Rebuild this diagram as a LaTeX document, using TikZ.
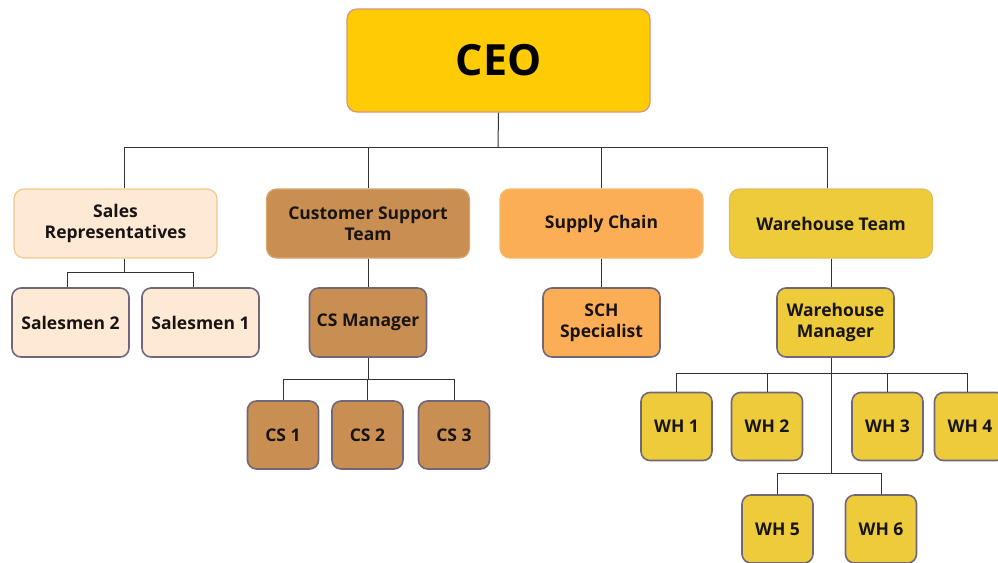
\documentclass[tikz,border=0pt]{standalone}
\usepackage{fontspec}
\setmainfont{Open Sans}
\usetikzlibrary{positioning}
\definecolor{ceoGold}{RGB}{255,203,5}
\definecolor{ceoEdge}{RGB}{212,150,130}
\definecolor{salesPeach}{RGB}{253,233,212}
\definecolor{salesEdge}{RGB}{241,200,145}
\definecolor{csBrown}{RGB}{201,143,82}
\definecolor{csEdge}{RGB}{215,165,110}
\definecolor{supplyOrange}{RGB}{252,174,86}
\definecolor{supplyEdge}{RGB}{245,185,105}
\definecolor{whYellow}{RGB}{237,203,58}
\definecolor{whEdge}{RGB}{222,190,90}
\definecolor{subEdge}{RGB}{112,104,122}
\definecolor{lineGrey}{RGB}{50,50,50}
\definecolor{inkDark}{RGB}{25,20,20}

\begin{document}
\begin{tikzpicture}[x=1pt,y=-1pt, every node/.style={font=\bfseries\fontsize{17.5}{21}\selectfont,text=inkDark,align=center,inner sep=1pt},
  teambox/.style={draw,rounded corners=10pt,line width=1.2pt,minimum width=203pt,minimum height=69pt},
  subbox/.style={draw=subEdge,rounded corners=9pt,line width=1.6pt,minimum width=117pt,minimum height=69pt},
  smallbox/.style={subbox,minimum width=71pt,minimum height=68pt},
  link/.style={draw=lineGrey,line width=1pt}]
\useasboundingbox (0,0) rectangle (998,562);

\node[draw=ceoEdge,fill=ceoGold,rounded corners=10pt,line width=1.2pt,minimum width=303pt,minimum height=103pt,font=\bfseries\fontsize{43}{45}\selectfont,text=black] (ceo) at (498.5,60.5) {CEO};

\node[teambox,draw=salesEdge,fill=salesPeach] (sales) at (115.5,223.5) {Sales\\Representatives};
\node[teambox,draw=csEdge,fill=csBrown] (cst) at (368,223.5) {Customer Support\\Team};
\node[teambox,draw=supplyEdge,fill=supplyOrange] (supply) at (601.5,223.5) {Supply Chain};
\node[teambox,draw=whEdge,fill=whYellow] (wht) at (831,223.5) {Warehouse Team};

\node[subbox,fill=salesPeach] (sm2) at (70.5,322.5) {Salesmen 2};
\node[subbox,fill=salesPeach] (sm1) at (200.5,322.5) {Salesmen 1};
\node[subbox,fill=csBrown] (csm) at (368,322.5) {CS Manager};
\node[subbox,fill=supplyOrange] (sch) at (601.5,322.5) {SCH\\Specialist};
\node[subbox,fill=whYellow] (whm) at (835.5,322.5) {Warehouse\\Manager};

\node[smallbox,fill=csBrown] (cs1) at (283,435) {CS 1};
\node[smallbox,fill=csBrown] (cs2) at (367.5,435) {CS 2};
\node[smallbox,fill=csBrown] (cs3) at (454,435) {CS 3};

\node[smallbox,fill=whYellow] (wh1) at (676.5,426.5) {WH 1};
\node[smallbox,fill=whYellow] (wh2) at (767,426.5) {WH 2};
\node[smallbox,fill=whYellow] (wh3) at (887.5,426.5) {WH 3};
\node[smallbox,fill=whYellow] (wh4) at (970,426.5) {WH 4};
\node[smallbox,fill=whYellow] (wh5) at (777.5,529) {WH 5};
\node[smallbox,fill=whYellow] (wh6) at (881,529) {WH 6};

% joints of the elbow lines
\coordinate (ceobus) at (498,147);
\coordinate (sjoin) at (124,272);
\coordinate (csjoin) at (368,379);
\coordinate (whjoin) at (831,373);
\coordinate (whjoin2) at (831,473);

\draw[link] (ceo.south) -- (ceobus);
\draw[link] (sales.north -| sjoin) |- (ceobus);
\draw[link] (cst.north) |- (ceobus);
\draw[link] (supply.north) |- (ceobus);
\draw[link] ([xshift=-4pt]wht.north) |- (ceobus);

\draw[link] (sales.south -| sjoin) -- (sjoin);
\draw[link] ([xshift=-3.5pt]sm2.north) |- (sjoin);
\draw[link] ([xshift=-7.5pt]sm1.north) |- (sjoin);

\draw[link] (cst.south) -- (csm.north);
\draw[link] (csm.south) -- (csjoin);
\draw[link] (cs1.north) |- (csjoin);
\draw[link] (cs2.north) |- (csjoin);
\draw[link] (cs3.north) |- (csjoin);

\draw[link] (supply.south) -- (sch.north);

\draw[link] (wht.south) -- (wht.south |- whm.north);
\draw[link] (whm.south -| whjoin) -- (whjoin2);
\draw[link] (wh1.north) |- (whjoin);
\draw[link] (wh2.north) |- (whjoin);
\draw[link] (wh3.north) |- (whjoin);
\draw[link] ([xshift=-3pt]wh4.north) |- (whjoin);
\draw[link] (wh5.north) |- (whjoin2);
\draw[link] (wh6.north) |- (whjoin2);
\end{tikzpicture}
\end{document}
